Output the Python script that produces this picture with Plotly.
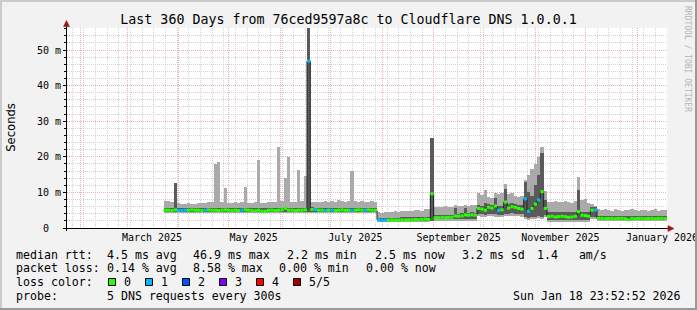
import pandas as pd
import plotly.graph_objects as go

# ---------------- data ----------------
T_START = "2025-01-23 23:52:52"
T_END = "2026-01-18 23:52:52"
BIN_START = "2025-03-23"
BIN_DAYS = 2
Y_MAX = 56.18

MEDIAN = [
    5.0, 5.0, 4.9, 5.1, 4.9, 4.9, 5.0, 5.0, 5.1, 5.0,
    5.0, 4.9, 5.0, 5.1, 5.0, 5.0, 4.9, 5.0, 5.1, 5.0,
    4.9, 5.0, 4.9, 5.0, 5.1, 5.0, 4.9, 4.8, 5.0, 4.7,
    4.7, 5.0, 5.0, 4.9, 5.0, 5.1, 5.5, 5.0, 5.0, 4.9,
    5.0, 5.0, 5.1, 46.9,
    5.2, 5.2, 5.0, 5.0, 4.9, 5.0, 5.0, 4.9, 5.0, 5.1,
    5.0, 5.0, 4.9, 5.0, 5.1, 5.0, 5.0, 5.1, 5.0, 5.0,
    2.3, 2.2, 2.2, 2.2, 2.3, 2.2, 2.2, 2.3, 2.2, 2.3, 2.3, 2.4, 2.3, 2.4, 2.5, 2.4, 9.6,
    2.9, 2.9, 3.0, 2.9, 3.0, 3.0, 3.4, 3.3, 3.4, 3.7, 3.6, 3.7, 3.6,
    5.5, 5.3, 5.0, 5.8, 5.6, 6.2, 5.0, 5.1, 7.3, 5.6, 6.0, 5.8, 5.5, 5.3, 8.2, 4.7, 5.5, 6.7, 7.9, 10.2, 5.5,
    3.2, 3.3, 3.1, 3.2, 3.3, 3.2, 3.0, 3.1, 3.3, 4.6, 3.6, 3.5, 3.3, 5.0, 5.1,
    2.7, 2.7, 2.6, 2.7, 2.7, 2.6, 2.7, 2.7, 2.6, 2.3, 2.7, 2.6, 2.7, 2.7, 2.6, 2.7, 2.7, 2.6, 2.7, 2.7, 2.6,
]

LOSS = [
    0, 0, 0, 0, 1, 1, 1, 0, 0, 0,
    0, 0, 1, 0, 0, 0, 0, 0, 0, 0,
    0, 0, 0, 1, 0, 0, 0, 0, 0, 0,
    0, 0, 0, 0, 0, 0, 0, 0, 0, 0,
    0, 0, 0, 1, 0, 1, 0, 0, 1, 0,
    1, 0, 0, 0, 0, 0, 1, 0, 0, 0,
    1, 0, 0, 0, 1, 1, 1, 0, 0, 0,
    0, 0, 0, 0, 0, 0, 0, 0, 0, 0,
    0, 0, 0, 0, 0, 0, 0, 0, 0, 0,
    0, 0, 0, 0, 0, 0, 0, 0, 0, 0,
    1, 0, 0, 0, 0, 0, 0, 0, 1, 1,
    0, 0, 1, 0, 0, 0, 0, 0, 0, 0,
    0, 0, 0, 0, 0, 0, 0, 0, 0, 1,
    0, 0, 0, 0, 0, 0, 0, 0, 0, 0,
    0, 0, 0, 0, 0, 0, 0, 0, 0, 0,
    0,
]

SMOKE_HI = [
    7.5, 7.6, 7.3, 12.7, 7.0, 6.8, 6.7, 6.9, 6.8, 6.7,
    7.0, 6.9, 7.1, 7.3, 7.2, 18.0, 18.5, 7.2, 11.2, 7.0,
    7.1, 7.3, 7.0, 7.2, 11.6, 7.1, 6.9, 7.2, 19.1, 7.0,
    6.9, 7.3, 7.4, 7.2, 22.8, 7.5, 14.0, 20.0, 7.4, 7.3,
    16.3, 7.6, 14.5, 14.5,
    7.2, 7.3, 7.4, 7.2, 7.5, 7.3, 7.6, 7.4, 7.8, 7.5,
    7.3, 7.6, 16.0, 7.5, 7.4, 7.7, 7.3, 7.4, 7.5, 7.4,
    4.4, 4.3, 4.4, 4.6, 4.5, 4.7, 4.6, 4.8, 4.7, 4.9, 4.8, 5.0, 5.1, 4.9, 5.3, 5.2, 25.3,
    5.8, 5.9, 6.0, 6.2, 5.9, 6.0, 6.4, 6.1, 6.3, 6.5, 6.2, 6.4, 6.6,
    9.8, 9.2, 10.7, 8.8, 8.5, 9.7, 9.5, 9.7, 12.5, 9.5, 9.8, 9.0, 8.8, 9.0, 13.5, 14.9, 16.5, 18.0, 20.0, 22.8, 10.4,
    7.4, 7.3, 7.5, 7.2, 7.4, 7.6, 7.3, 7.0, 7.6, 14.4, 7.8, 8.2, 7.0, 6.8, 6.3,
    5.2, 5.0, 5.3, 5.1, 4.9, 5.2, 5.0, 4.8, 5.1, 5.0, 5.3, 5.0, 4.9, 5.1, 5.0, 4.9, 5.0, 5.2, 4.9, 5.0, 5.1,
]

SMOKE_LO = (
    [4.1] * 44
    + [4.1] * 20
    + [1.7] * 16 + [1.9]
    + [2.1] * 13
    + [3.3, 3.2, 3.0, 3.4, 3.3, 3.2, 3.0, 3.1, 3.3, 3.4, 3.5, 3.3, 3.4, 3.2, 2.6, 2.2, 2.4, 2.6, 2.8, 2.5, 3.0]
    + [1.8] * 13 + [2.5, 2.5]
    + [1.9] * 21
)

CORE_LO = (
    [4.4] * 44
    + [4.4] * 20
    + [1.9] * 16 + [2.0]
    + [2.4] * 13
    + [3.9, 3.8, 3.6, 4.0, 3.9, 3.8, 3.6, 3.7, 3.9, 4.0, 4.1, 3.9, 4.0, 3.8, 3.2, 2.8, 3.0, 3.2, 3.4, 3.1, 3.6]
    + [2.3] * 13 + [3.0, 3.0]
    + [2.2] * 21
)

CORE_HI = [
    5.6, 5.6, 5.6, 12.7, 5.6, 5.6, 5.6, 5.6, 5.6, 5.6,
    5.6, 5.6, 5.6, 5.6, 5.6, 5.6, 5.6, 5.6, 5.6, 5.6,
    5.6, 5.6, 5.6, 5.6, 5.6, 5.6, 5.6, 5.6, 5.6, 5.6,
    5.6, 5.6, 5.6, 5.6, 5.6, 5.6, 6.0, 5.6, 5.6, 5.6,
    5.6, 5.6, 5.6, 56.18,
    5.9, 5.7, 5.7, 5.7, 5.7, 5.7, 5.7, 5.7, 5.7, 5.7,
    5.7, 5.7, 5.7, 5.7, 5.7, 5.7, 5.7, 5.7, 5.7, 5.7,
    2.9, 2.9, 2.9, 2.9, 2.9, 2.9, 2.9, 3.0, 3.0, 3.0, 3.0, 3.0, 3.1, 3.1, 3.1, 3.1, 25.3,
    3.6, 3.6, 3.7, 3.6, 3.7, 3.7, 5.5, 4.0, 4.1, 5.5, 4.3, 4.4, 4.3,
    6.6, 6.3, 7.0, 6.8, 6.6, 8.5, 6.2, 6.3, 11.0, 6.7, 7.0, 6.8, 6.6, 6.5, 13.0, 10.0, 9.0, 12.0, 15.0, 21.0, 8.0,
    4.5, 4.5, 4.5, 4.5, 4.5, 4.5, 4.5, 4.5, 4.5, 10.7, 4.5, 4.5, 4.5, 6.0, 6.0,
    3.3, 3.3, 3.3, 3.3, 3.3, 3.3, 3.3, 3.3, 3.3, 3.3, 3.3, 3.3, 3.3, 3.3, 3.3, 3.3, 3.3, 3.3, 3.3, 3.3, 3.3,
]

MONTH_STARTS = ["2025-02-01", "2025-03-01", "2025-04-01", "2025-05-01", "2025-06-01",
                "2025-07-01", "2025-08-01", "2025-09-01", "2025-10-01", "2025-11-01",
                "2025-12-01", "2026-01-01"]
WEEK_FIRST = "2025-01-27"
LABEL_DATES = ["2025-03-16", "2025-05-16", "2025-07-16", "2025-09-16", "2025-11-16", "2026-01-16"]
LABELS = ["March 2025", "May 2025", "July 2025", "September 2025", "November 2025", "January 2026"]
Y_TICKS = [0, 10, 20, 30, 40, 50]
Y_TICKTEXT = ["0\u00a0\u00a0", "10 m", "20 m", "30 m", "40 m", "50 m"]
LOSS_COLORS = ["#26ff00", "#00b8ff", "#0059ff", "#7e00ff", "#ff0000", "#a00000"]
LOSS_LABELS = ["0", "1", "2", "3", "4", "5/5"]

TITLE = "Last 360 Days from 76ced9597a8c to Cloudflare DNS 1.0.0.1"
ROW1 = ["median rtt:", "4.5 ms avg", "46.9 ms max", "2.2 ms min", "2.5 ms now", "3.2 ms sd",
        "1.4\u00a0\u00a0\u00a0am/s"]
ROW2 = ["packet loss:", "0.14 % avg", "8.58 % max", "0.00 % min", "0.00 % now"]
ROW3_HEAD = "loss color:"
ROW4 = ["probe:", "5 DNS requests every 300s"]
STAMP = "Sun Jan 18 23:52:52 2026"
WATERMARK = "RRDTOOL / TOBI OETIKER"

# ---------------- geometry / style ----------------
W, H = 697, 310
L, R, T, B = 67, 667, 28, 228
MONO = "DejaVu Sans Mono"
SANS = "DejaVu Sans"
LIGHT = "#aaaaaa"
DARK = "#5a5a5a"
MAJOR_GRID = "#eab2b2"
MINOR_GRID = "#d2d2d2"
BG = "#f2f2f2"


def px(xp):
    return (xp - L) / (R - L)


def py(yp):
    return (B - yp) / (B - T)


DAY_MS = 86400000
n = len(MEDIAN)
bin_starts = pd.date_range(BIN_START, periods=n, freq=f"{BIN_DAYS}D")
bin_ends = bin_starts + pd.Timedelta(days=BIN_DAYS)
bin_mid = bin_starts + pd.Timedelta(days=BIN_DAYS / 2)
weeks = pd.date_range(WEEK_FIRST, T_END, freq="7D")

fig = go.Figure()

# empty trace so that the label axis (x2) is created
fig.add_trace(go.Scatter(x=[], y=[], xaxis="x2", yaxis="y", mode="lines",
                         hoverinfo="skip", showlegend=False))

fig.add_trace(go.Bar(
    x=bin_mid, base=SMOKE_LO, y=[h - l for h, l in zip(SMOKE_HI, SMOKE_LO)],
    width=BIN_DAYS * DAY_MS, marker=dict(color=LIGHT, line=dict(width=0)),
    hoverinfo="skip", showlegend=False))
fig.add_trace(go.Bar(
    x=bin_mid, base=CORE_LO, y=[h - l for h, l in zip(CORE_HI, CORE_LO)],
    width=BIN_DAYS * DAY_MS, marker=dict(color=DARK, line=dict(width=0)),
    hoverinfo="skip", showlegend=False))

# dark median line (steps)
fig.add_trace(go.Scatter(
    x=list(bin_starts) + [bin_ends[-1]], y=MEDIAN + [MEDIAN[-1]],
    mode="lines", line=dict(color="#202020", width=1, shape="hv"),
    hoverinfo="skip", showlegend=False))

# loss-coloured median segments
for lvl, col in enumerate(LOSS_COLORS):
    xs, ys = [], []
    for i in range(n):
        if LOSS[i] == lvl:
            xs += [bin_starts[i], bin_ends[i], None]
            ys += [MEDIAN[i], MEDIAN[i], None]
    if xs:
        fig.add_trace(go.Scatter(x=xs, y=ys, mode="lines",
                                 line=dict(color=col, width=3),
                                 hoverinfo="skip", showlegend=False))

fig.update_layout(
    width=W, height=H, autosize=False,
    margin=dict(l=L, r=W - R, t=T, b=H - B, pad=0, autoexpand=False),
    paper_bgcolor=BG, plot_bgcolor="white",
    barmode="overlay", bargap=0, showlegend=False, hovermode=False,
    title=dict(text=TITLE, x=0.5, xref="container", xanchor="center",
               y=1 - 19 / H, yref="container", yanchor="middle",
               font=dict(family=MONO, size=13.3, color="black")),
    xaxis=dict(type="date", range=[T_START, T_END], tickmode="array", tickvals=MONTH_STARTS,
               showticklabels=False, ticks="", showline=False, zeroline=False, automargin=False,
               showgrid=True, gridcolor=MAJOR_GRID, griddash="1px,1px", gridwidth=1,
               minor=dict(tickmode="array", tickvals=list(weeks), showgrid=True,
                          gridcolor=MINOR_GRID, griddash="1px,1px", ticks="")),
    xaxis2=dict(type="date", range=[T_START, T_END], overlaying="x", anchor="y", side="bottom",
                tickmode="array", tickvals=LABEL_DATES, ticktext=LABELS, showgrid=False,
                ticks="", showline=False, zeroline=False, ticklabeloverflow="allow",
                automargin=False, ticklabelstandoff=2,
                tickfont=dict(family=MONO, size=10, color="black")),
    yaxis=dict(range=[0, Y_MAX], tickmode="array", tickvals=Y_TICKS, ticktext=Y_TICKTEXT,
               showgrid=True, gridcolor=MAJOR_GRID, griddash="1px,1px", zeroline=False,
               showline=False, ticks="outside", ticklen=3, tickcolor="black", automargin=False,
               tickfont=dict(family=MONO, size=10, color="black"),
               minor=dict(dtick=2, showgrid=True, gridcolor=MINOR_GRID, griddash="1px,1px",
                          ticks="outside", ticklen=2, tickcolor="black")),
)

shapes = []
# frame
shapes.append(dict(type="rect", xref="paper", yref="paper", x0=px(0), x1=px(W), y0=py(0), y1=py(2),
                   fillcolor="#cbcbcb", line=dict(width=0), layer="above"))
shapes.append(dict(type="rect", xref="paper", yref="paper", x0=px(0), x1=px(2), y0=py(0), y1=py(H),
                   fillcolor="#cbcbcb", line=dict(width=0), layer="above"))
shapes.append(dict(type="rect", xref="paper", yref="paper", x0=px(W - 2), x1=px(W), y0=py(0), y1=py(H),
                   fillcolor="#999999", line=dict(width=0), layer="above"))
shapes.append(dict(type="rect", xref="paper", yref="paper", x0=px(0), x1=px(W), y0=py(H - 2), y1=py(H),
                   fillcolor="#999999", line=dict(width=0), layer="above"))
# axes with arrows
shapes.append(dict(type="line", xref="paper", yref="paper", x0=px(66.5), x1=px(66.5), y0=py(231), y1=py(24),
                   line=dict(color="black", width=1), layer="above"))
shapes.append(dict(type="line", xref="paper", yref="paper", x0=px(63), x1=px(669), y0=py(228.5), y1=py(228.5),
                   line=dict(color="black", width=1), layer="above"))
ARROW = "#a01414"
shapes.append(dict(type="path", xref="paper", yref="paper",
                   path=f"M {px(66.5)} {py(20.5)} L {px(63.5)} {py(26.5)} L {px(69.5)} {py(26.5)} Z",
                   fillcolor=ARROW, line=dict(color=ARROW, width=0.5), layer="above"))
shapes.append(dict(type="path", xref="paper", yref="paper",
                   path=f"M {px(674)} {py(228.5)} L {px(668)} {py(225.5)} L {px(668)} {py(231.5)} Z",
                   fillcolor=ARROW, line=dict(color=ARROW, width=0.5), layer="above"))

annotations = []


def text(xp, yp, s, size=11.6, family=MONO, anchor="left", color="black", angle=0):
    annotations.append(dict(xref="paper", yref="paper", x=px(xp), y=py(yp), text=s,
                            showarrow=False, xanchor=anchor, yanchor="middle",
                            borderpad=0, borderwidth=0, textangle=angle,
                            font=dict(family=family, size=size, color=color)))


for xp, s in zip([16, 107.3, 192.7, 286.7, 375.3, 462, 536.7], ROW1):
    text(xp, 255, s)
for xp, s in zip([16, 107.3, 192.7, 279.3, 366], ROW2):
    text(xp, 268.3, s)
text(16, 282.3, ROW3_HEAD)
for k, (col, lab) in enumerate(zip(LOSS_COLORS, LOSS_LABELS)):
    x0 = 108.5 + 37 * k
    shapes.append(dict(type="rect", xref="paper", yref="paper", x0=px(x0), x1=px(x0 + 7),
                       y0=py(278.5), y1=py(285.5), fillcolor=col,
                       line=dict(color="black", width=1), layer="above"))
    text(x0 + 15, 282.3, lab)
for xp, s in zip([16, 107.3], ROW4):
    text(xp, 296, s)
text(680.5, 296, STAMP, anchor="right")
text(10.3, 127.5, "Seconds", family=SANS, anchor="center", angle=-90)
text(688, 59, WATERMARK, size=8, anchor="center", color="#b4b4b4", angle=90)

fig.update_layout(shapes=shapes, annotations=annotations)
fig.write_html("out.html")
